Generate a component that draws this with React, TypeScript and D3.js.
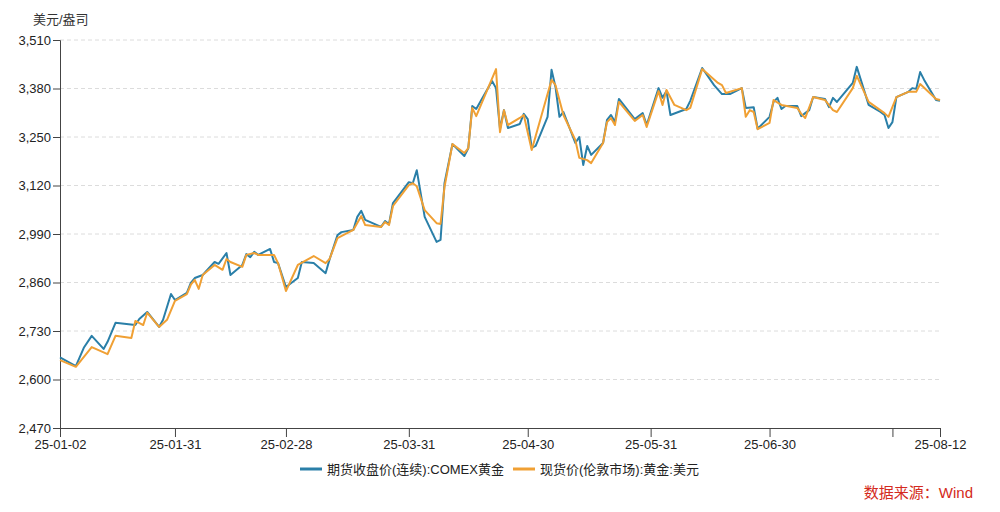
import { useRef, useEffect } from 'react';
import * as d3 from 'd3';

// COMEX gold futures (continuous) close
const futuresDates = [
  '2025-01-02', '2025-01-06', '2025-01-08', '2025-01-10', '2025-01-13', '2025-01-14',
  '2025-01-16', '2025-01-21', '2025-01-22', '2025-01-24', '2025-01-27', '2025-01-28',
  '2025-01-30', '2025-01-31', '2025-02-03', '2025-02-04', '2025-02-05', '2025-02-07',
  '2025-02-10', '2025-02-11', '2025-02-13', '2025-02-14', '2025-02-17', '2025-02-18',
  '2025-02-19', '2025-02-20', '2025-02-21', '2025-02-24', '2025-02-25', '2025-02-26',
  '2025-02-28', '2025-03-03', '2025-03-04', '2025-03-07', '2025-03-10', '2025-03-11',
  '2025-03-13', '2025-03-14', '2025-03-17', '2025-03-18', '2025-03-19', '2025-03-20',
  '2025-03-24', '2025-03-25', '2025-03-26', '2025-03-27', '2025-03-31', '2025-04-01',
  '2025-04-02', '2025-04-04', '2025-04-07', '2025-04-08', '2025-04-09', '2025-04-11',
  '2025-04-14', '2025-04-15', '2025-04-16', '2025-04-17', '2025-04-21', '2025-04-22',
  '2025-04-23', '2025-04-24', '2025-04-25', '2025-04-28', '2025-04-29', '2025-04-30',
  '2025-05-01', '2025-05-02', '2025-05-05', '2025-05-06', '2025-05-07', '2025-05-08',
  '2025-05-09', '2025-05-12', '2025-05-13', '2025-05-14', '2025-05-15', '2025-05-16',
  '2025-05-19', '2025-05-20', '2025-05-21', '2025-05-22', '2025-05-23', '2025-05-27',
  '2025-05-29', '2025-05-30', '2025-06-02', '2025-06-03', '2025-06-04', '2025-06-05',
  '2025-06-09', '2025-06-10', '2025-06-13', '2025-06-16', '2025-06-18', '2025-06-20',
  '2025-06-23', '2025-06-24', '2025-06-26', '2025-06-27', '2025-06-30', '2025-07-01',
  '2025-07-02', '2025-07-03', '2025-07-04', '2025-07-07', '2025-07-08', '2025-07-10',
  '2025-07-11', '2025-07-14', '2025-07-15', '2025-07-16', '2025-07-17', '2025-07-21',
  '2025-07-22', '2025-07-25', '2025-07-28', '2025-07-29', '2025-07-30', '2025-07-31',
  '2025-08-01', '2025-08-04', '2025-08-05', '2025-08-06', '2025-08-07', '2025-08-08',
  '2025-08-11', '2025-08-12',
];
const futuresValues = [
  2659, 2636, 2685, 2717, 2682, 2701,
  2752, 2746, 2762, 2781, 2741, 2760,
  2829, 2813, 2832, 2859, 2872, 2880,
  2915, 2910, 2939, 2880, 2907, 2936,
  2928, 2942, 2934, 2950, 2915, 2912,
  2848, 2872, 2915, 2912, 2885, 2922,
  2987, 2995, 3001, 3036, 3052, 3028,
  3009, 3025, 3017, 3073, 3129, 3126,
  3161, 3036, 2969, 2974, 3126, 3231,
  3199, 3220, 3333, 3325, 3400, 3381,
  3272, 3322, 3274, 3285, 3312, 3298,
  3221, 3226, 3304, 3430, 3384, 3304,
  3317, 3234, 3250, 3175, 3226, 3202,
  3234, 3296, 3309, 3290, 3352, 3298,
  3314, 3282, 3381, 3355, 3373, 3309,
  3325, 3347, 3435, 3389, 3365, 3365,
  3381, 3328, 3330, 3272, 3304, 3344,
  3355, 3325, 3333, 3333, 3306, 3322,
  3357, 3352, 3330, 3355, 3344, 3395,
  3438, 3336, 3317, 3309, 3274, 3290,
  3357, 3371, 3381, 3379, 3424, 3403,
  3349, 3347,
];

// London spot gold, USD
const spotDates = [
  '2025-01-02', '2025-01-06', '2025-01-10', '2025-01-14', '2025-01-16', '2025-01-20',
  '2025-01-21', '2025-01-23', '2025-01-24', '2025-01-27', '2025-01-29', '2025-01-31',
  '2025-02-03', '2025-02-04', '2025-02-05', '2025-02-06', '2025-02-07', '2025-02-10',
  '2025-02-12', '2025-02-13', '2025-02-14', '2025-02-17', '2025-02-18', '2025-02-20',
  '2025-02-21', '2025-02-25', '2025-02-26', '2025-02-28', '2025-03-03', '2025-03-07',
  '2025-03-10', '2025-03-11', '2025-03-13', '2025-03-17', '2025-03-19', '2025-03-20',
  '2025-03-24', '2025-03-25', '2025-03-26', '2025-03-27', '2025-03-31', '2025-04-01',
  '2025-04-02', '2025-04-04', '2025-04-07', '2025-04-08', '2025-04-09', '2025-04-11',
  '2025-04-14', '2025-04-15', '2025-04-16', '2025-04-17', '2025-04-22', '2025-04-23',
  '2025-04-24', '2025-04-25', '2025-04-28', '2025-04-29', '2025-05-01', '2025-05-06',
  '2025-05-07', '2025-05-09', '2025-05-12', '2025-05-13', '2025-05-15', '2025-05-16',
  '2025-05-19', '2025-05-20', '2025-05-21', '2025-05-22', '2025-05-23', '2025-05-27',
  '2025-05-29', '2025-05-30', '2025-06-02', '2025-06-03', '2025-06-04', '2025-06-06',
  '2025-06-09', '2025-06-10', '2025-06-13', '2025-06-17', '2025-06-18', '2025-06-19',
  '2025-06-23', '2025-06-24', '2025-06-25', '2025-06-26', '2025-06-27', '2025-06-30',
  '2025-07-01', '2025-07-03', '2025-07-07', '2025-07-08', '2025-07-09', '2025-07-11',
  '2025-07-14', '2025-07-16', '2025-07-17', '2025-07-21', '2025-07-22', '2025-07-25',
  '2025-07-29', '2025-07-30', '2025-08-01', '2025-08-04', '2025-08-06', '2025-08-07',
  '2025-08-11', '2025-08-12',
];
const spotValues = [
  2652, 2634, 2687, 2668, 2717, 2711,
  2757, 2746, 2779, 2741, 2760, 2811,
  2829, 2854, 2867, 2843, 2880, 2907,
  2894, 2923, 2915, 2902, 2934, 2939,
  2934, 2934, 2912, 2837, 2907, 2931,
  2912, 2923, 2979, 3001, 3038, 3014,
  3009, 3022, 3014, 3065, 3121, 3126,
  3118, 3054, 3019, 3017, 3116, 3231,
  3207, 3220, 3328, 3306, 3432, 3263,
  3322, 3282, 3301, 3309, 3215, 3403,
  3389, 3309, 3242, 3194, 3188, 3180,
  3234, 3290, 3301, 3282, 3344, 3293,
  3309, 3277, 3373, 3336, 3376, 3336,
  3322, 3328, 3432, 3395, 3389, 3368,
  3381, 3304, 3322, 3317, 3271, 3288,
  3349, 3336, 3328, 3312, 3301, 3357,
  3349, 3322, 3317, 3381, 3414, 3344,
  3314, 3304, 3357, 3371, 3371, 3392,
  3352, 3349,
];

const yTicks = [2470, 2600, 2730, 2860, 2990, 3120, 3250, 3380, 3510];
const xTickDates = ['2025-01-02', '2025-01-31', '2025-02-28', '2025-03-31', '2025-04-30', '2025-05-31', '2025-06-30', '2025-07-31', '2025-08-12'];
const xTickLabels = ['25-01-02', '25-01-31', '25-02-28', '25-03-31', '25-04-30', '25-05-31', '25-06-30', '', '25-08-12'];

const seriesNames = ['期货收盘价(连续):COMEX黄金', '现货价(伦敦市场):黄金:美元'];
const seriesColors = ['#2a7fa8', '#f0a034'];
const unitLabel = '美元/盎司';
const sourceLabel = '数据来源：Wind';

const FONT = "Helvetica, Arial, 'Liberation Sans', 'Noto Sans CJK SC', sans-serif";

type Point = { date: Date; value: number };

const Chart = ({ width = 1000, height = 512 }) => {
  const svgRef = useRef(null);

  useEffect(() => {
    const svg = d3.select(svgRef.current);
    svg.selectAll('*').remove();

    const margin = { top: 40, right: 60, bottom: 84, left: 60 };
    const innerWidth = width - margin.left - margin.right;
    const innerHeight = height - margin.top - margin.bottom;

    const parse = d3.timeParse('%Y-%m-%d');
    const futures: Point[] = futuresDates.map((d, i) => ({ date: parse(d) as Date, value: futuresValues[i] }));
    const spot: Point[] = spotDates.map((d, i) => ({ date: parse(d) as Date, value: spotValues[i] }));
    const ticks = xTickDates.map((d) => parse(d) as Date);

    const xScale = d3
      .scaleTime()
      .domain([ticks[0], ticks[ticks.length - 1]])
      .range([0, innerWidth]);
    const yScale = d3
      .scaleLinear()
      .domain([yTicks[0], yTicks[yTicks.length - 1]])
      .range([innerHeight, 0]);

    const g = svg.append('g').attr('transform', `translate(${margin.left}, ${margin.top})`);

    // dashed grid lines
    g.append('g')
      .selectAll('line')
      .data(yTicks.slice(1))
      .join('line')
      .attr('x1', 0)
      .attr('x2', innerWidth)
      .attr('y1', (d) => yScale(d))
      .attr('y2', (d) => yScale(d))
      .attr('stroke', '#dcdcdc')
      .attr('stroke-dasharray', '4,3');

    // y axis
    const yAxis = g
      .append('g')
      .call(d3.axisLeft(yScale).tickValues(yTicks).tickFormat(d3.format(',')).tickSize(7).tickPadding(2));
    yAxis.select('.domain').attr('stroke', '#444');
    yAxis.selectAll('.tick line').attr('stroke', '#444');
    yAxis.selectAll('text').attr('font-family', FONT).attr('font-size', 13).attr('fill', '#222');

    // x axis
    const labelOf = new Map(ticks.map((t, i) => [+t, xTickLabels[i]]));
    const xAxis = g
      .append('g')
      .attr('transform', `translate(0, ${innerHeight})`)
      .call(
        d3
          .axisBottom(xScale)
          .tickValues(ticks)
          .tickFormat((d) => labelOf.get(+d) ?? '')
          .tickSizeInner(9)
          .tickSizeOuter(0)
          .tickPadding(3)
      );
    xAxis.select('.domain').attr('stroke', '#444');
    xAxis.selectAll('.tick line').attr('stroke', '#444');
    xAxis.selectAll('text').attr('font-family', FONT).attr('font-size', 13).attr('fill', '#222');

    const line = d3
      .line<Point>()
      .x((d) => xScale(d.date))
      .y((d) => yScale(d.value));

    [futures, spot].forEach((series, i) => {
      g.append('path')
        .datum(series)
        .attr('fill', 'none')
        .attr('stroke', seriesColors[i])
        .attr('stroke-width', 2)
        .attr('stroke-linejoin', 'round')
        .attr('d', line);
    });

    // unit label
    svg.append('text')
      .attr('x', 33)
      .attr('y', 24)
      .attr('font-family', FONT)
      .attr('font-size', 13)
      .attr('fill', '#333')
      .text(unitLabel);

    // legend
    const legendX = [300, 513];
    seriesNames.forEach((name, i) => {
      const lg = svg.append('g').attr('transform', `translate(${legendX[i]}, 469)`);
      lg.append('line')
        .attr('x1', 0)
        .attr('x2', 22)
        .attr('stroke', seriesColors[i])
        .attr('stroke-width', 3);
      lg.append('text')
        .attr('x', 27)
        .attr('dy', '0.35em')
        .attr('font-family', FONT)
        .attr('font-size', 13)
        .attr('fill', '#222')
        .text(name);
    });

    // source
    svg.append('text')
      .attr('x', 973)
      .attr('y', 498)
      .attr('text-anchor', 'end')
      .attr('font-family', FONT)
      .attr('font-size', 15)
      .attr('fill', '#d42a20')
      .text(sourceLabel);
  }, [width, height]);

  return <svg ref={svgRef} width={width} height={height} style={{ display: 'block' }} />;
};

export default function App() {
  return (
    <div style={{ position: 'absolute', left: 0, top: 0, background: '#fff' }}>
      <Chart />
    </div>
  );
}
